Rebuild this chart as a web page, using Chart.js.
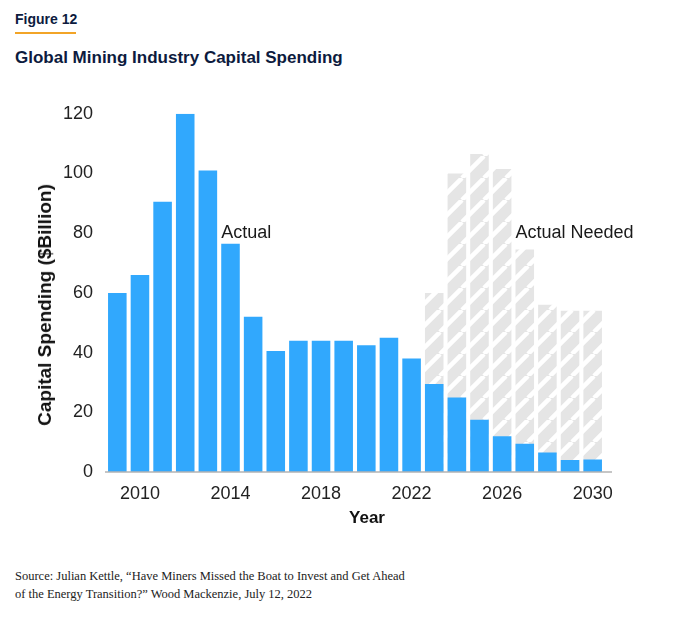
<!DOCTYPE html>
<html><head><meta charset="utf-8">
<script src="https://cdn.jsdelivr.net/npm/chart.js@4/dist/chart.umd.min.js"></script>
<style>
html,body{margin:0;padding:0;background:#fff;}
#page{position:relative;width:680px;height:624px;overflow:hidden;font-family:"Liberation Sans",Arial,sans-serif;color:#222;}
#fig{position:absolute;left:15px;top:11px;font-size:14px;line-height:16px;font-weight:bold;color:#0d1b3e;}
#rule{position:absolute;left:15px;top:32px;width:61px;height:2px;background:#f2a427;}
#title{position:absolute;left:15px;top:48px;font-size:17px;line-height:20px;font-weight:bold;color:#0d1b3e;white-space:nowrap;}
#wrap{position:absolute;left:0;top:90px;width:680px;height:450px;}
#ytitle{position:absolute;left:45px;top:305px;transform:translate(-50%,-50%) rotate(-90deg);font-size:19px;font-weight:bold;color:#111;white-space:nowrap;}
#xtitle{position:absolute;left:367px;top:518px;transform:translate(-50%,-50%);font-size:17px;font-weight:bold;color:#111;white-space:nowrap;}
#source{position:absolute;left:15px;top:567px;font-family:"Liberation Serif","Times New Roman",serif;font-size:12.5px;line-height:18px;color:#222;white-space:nowrap;}
</style></head><body>
<div id="page">
 <div id="fig">Figure 12</div>
 <div id="rule"></div>
 <div id="title">Global Mining Industry Capital Spending</div>
 <div id="wrap"><canvas id="c" width="680" height="450" style="width:680px;height:450px"></canvas></div>
 <div id="ytitle">Capital Spending ($Billion)</div>
 <div id="xtitle">Year</div>
 <div id="source">Source: Julian Kettle, “Have Miners Missed the Boat to Invest and Get Ahead<br>of the Energy Transition?” Wood Mackenzie, July 12, 2022</div>
</div>
<script>
const years = ['2009','2010','2011','2012','2013','2014','2015','2016','2017','2018','2019','2020','2021','2022','2023','2024','2025','2026','2027','2028','2029','2030'];
const actual = [60,66,90.5,120,101,76.5,52,40.5,44,44,44,42.5,45,38,29.5,25,17.5,12,9.5,6.5,4,4.2];
const needed = [null,null,null,null,null,null,null,null,null,null,null,null,null,null,60,100,106.5,101.5,74.5,56,54,54];
const tickLabels = ['2010','2014','2018','2022','2026','2030'];
const yTicks = [0,20,40,60,80,100,120];
const annotTexts = ['Actual','Actual Needed'];
const annotYears = ['2014','2027'];
const annotValues = [80,80];

function makeHatch(){
  const P = 22;
  const c = document.createElement('canvas');
  c.width = P; c.height = P;
  const g = c.getContext('2d');
  g.fillStyle = '#e5e5e5';
  g.fillRect(0,0,P,P);
  g.strokeStyle = '#ffffff';
  g.lineWidth = 4.5;
  for (let k=-1;k<=1;k++){
    g.beginPath();
    g.moveTo(k*P, P);
    g.lineTo(k*P+P, 0);
    g.stroke();
  }
  return g.createPattern(c,'repeat');
}

const overlay = {
  id:'overlay',
  afterDatasetsDraw(chart){
    const {ctx, chartArea, scales} = chart;
    const y0 = scales.y.getPixelForValue(0);
    ctx.save();
    ctx.strokeStyle = '#b3b3b3';
    ctx.lineWidth = 1.5;
    ctx.beginPath();
    ctx.moveTo(chartArea.left - 1, y0);
    ctx.lineTo(chartArea.right + 8, y0);
    ctx.stroke();
    const meta = chart.getDatasetMeta(0);
    ctx.fillStyle = '#1a1a1a';
    ctx.font = '18px "Liberation Sans", Arial, sans-serif';
    ctx.textAlign = 'left';
    ctx.textBaseline = 'middle';
    annotTexts.forEach((t,i)=>{
      const idx = years.indexOf(annotYears[i]);
      const el = meta.data[idx];
      ctx.fillText(t, el.x - el.width/2, scales.y.getPixelForValue(annotValues[i]));
    });
    ctx.restore();
  }
};

new Chart(document.getElementById('c'), {
  type:'bar',
  data:{
    labels: years,
    datasets:[
      {label:'Actual', data: actual, backgroundColor:'#31a8fd', borderWidth:0, grouped:false, barPercentage:0.82, categoryPercentage:1},
      {label:'Actual Needed', data: needed, backgroundColor: makeHatch(), borderWidth:0, grouped:false, barPercentage:0.82, categoryPercentage:1}
    ]
  },
  options:{
    responsive:false,
    animation:false,
    layout:{padding:{top:20,right:76,left:0,bottom:0}},
    plugins:{legend:{display:false}, tooltip:{enabled:false}},
    scales:{
      x:{
        grid:{display:false, drawTicks:false},
        border:{display:false},
        ticks:{autoSkip:false, maxRotation:0, minRotation:0, padding:11, color:'#222',
          font:{size:18, family:'"Liberation Sans", Arial, sans-serif'},
          callback(v,i){ return tickLabels.includes(years[i]) ? years[i] : ''; }},
        afterFit(s){ s.height = 68; }
      },
      y:{
        min:0, max:120,
        grid:{display:false, drawTicks:false},
        border:{display:false},
        afterBuildTicks(s){ s.ticks = yTicks.map(v=>({value:v})); },
        ticks:{padding:13, color:'#222', font:{size:18, family:'"Liberation Sans", Arial, sans-serif'}},
        afterFit(s){ s.width = 106; }
      }
    }
  },
  plugins:[overlay]
});
</script>
</body></html>
